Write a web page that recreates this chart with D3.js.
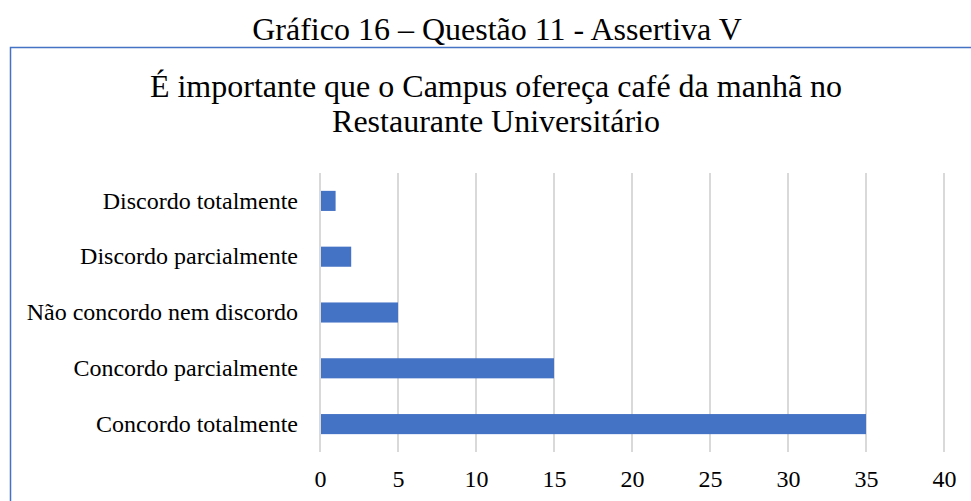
<!DOCTYPE html>
<html>
<head>
<meta charset="utf-8">
<script src="https://cdn.jsdelivr.net/npm/d3@7"></script>
<style>
  body { margin: 0; background: #fff; }
  svg text { font-family: "Liberation Serif", "Times New Roman", serif; fill: #000; }
</style>
</head>
<body>
<div id="chart"></div>
<script>
// data
var categories = ["Discordo totalmente", "Discordo parcialmente", "Não concordo nem discordo",
                  "Concordo parcialmente", "Concordo totalmente"];
var values = [1, 2, 5, 15, 35];
var ticks = [0, 5, 10, 15, 20, 25, 30, 35, 40];

var w = 971, h = 501;
var margin = {top: 173, right: 27, bottom: 49, left: 320},
    width = w - margin.left - margin.right,
    height = h - margin.top - margin.bottom;
var serif = "'Liberation Serif', 'Times New Roman', serif";

var svg = d3.select("#chart")
  .append("svg")
  .attr("width", w)
  .attr("height", h);

// outer frame (cut off on right/bottom like the source)
svg.append("rect")
  .attr("x", 10.5).attr("y", 47.5)
  .attr("width", 1000).attr("height", 600)
  .attr("fill", "none")
  .attr("stroke", "#4472C4")
  .attr("stroke-width", 1.5);

// caption
svg.append("text")
  .attr("x", 497).attr("y", 40)
  .attr("text-anchor", "middle")
  .style("font-family", serif)
  .style("font-size", "32px")
  .text("Gráfico 16 – Questão 11 - Assertiva V");

// chart title
var titleLines = ["É importante que o Campus ofereça café da manhã no", "Restaurante Universitário"];
svg.selectAll(".title")
  .data(titleLines)
  .enter()
  .append("text")
    .attr("class", "title")
    .attr("x", 496)
    .attr("y", function(d, i) { return 97 + i * 34.5; })
    .attr("text-anchor", "middle")
    .style("font-family", serif)
    .style("font-size", "32px")
    .text(function(d) { return d; });

var g = svg.append("g")
  .attr("transform", "translate(" + margin.left + "," + margin.top + ")");

var x = d3.scaleLinear()
  .domain([0, 40])
  .range([0, width]);

var y = d3.scaleBand()
  .domain(categories)
  .range([0, height])
  .paddingInner(0.64)
  .paddingOuter(0.32);

// gridlines
g.selectAll(".grid")
  .data(ticks)
  .enter()
  .append("line")
    .attr("x1", function(d) { return x(d); })
    .attr("x2", function(d) { return x(d); })
    .attr("y1", 0)
    .attr("y2", height)
    .attr("stroke", "#d9d9d9")
    .attr("stroke-width", 2);

// bars
g.selectAll(".bar")
  .data(values)
  .enter()
  .append("rect")
    .attr("x", x(0) + 1)
    .attr("y", function(d, i) { return y(categories[i]); })
    .attr("width", function(d) { return x(d) - x(0) - 1; })
    .attr("height", y.bandwidth())
    .attr("fill", "#4472C4");

// x axis
var xAxis = g.append("g")
  .attr("transform", "translate(0," + height + ")")
  .call(d3.axisBottom(x).tickValues(ticks).tickSize(0).tickPadding(18));
xAxis.select(".domain").remove();
xAxis.selectAll("text")
  .style("font-size", "24px")
  .style("font-family", serif);

// y axis
var yAxis = g.append("g")
  .call(d3.axisLeft(y).tickSize(0).tickPadding(22));
yAxis.select(".domain").remove();
yAxis.selectAll("text")
  .style("font-size", "24px")
  .style("font-family", serif);
</script>
</body>
</html>
